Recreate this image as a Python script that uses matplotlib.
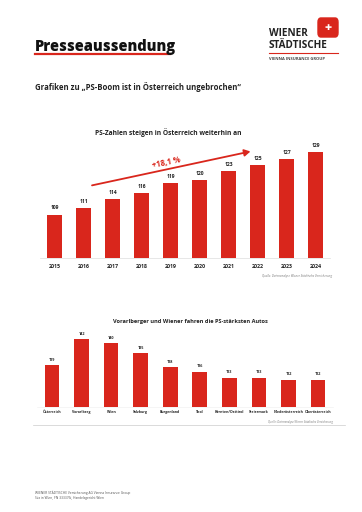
import matplotlib.pyplot as plt
from matplotlib.patches import FancyBboxPatch

plt.rcParams['font.family'] = ['Open Sans', 'DejaVu Sans']

# Daten
years = ['2015', '2016', '2017', '2018', '2019', '2020', '2021', '2022', '2023', '2024']
ps_years = [109, 111, 114, 116, 119, 120, 123, 125, 127, 129]

states = ['Österreich', 'Vorarlberg', 'Wien', 'Salzburg', 'Burgenland', 'Tirol',
          'Kärnten/Osttirol', 'Steiermark', 'Niederösterreich', 'Oberösterreich']
ps_states = [129, 142, 140, 135, 128, 126, 123, 123, 122, 122]

red = '#d9261c'
dark = '#222222'
W, H = 362, 512

fig = plt.figure(figsize=(W / 100, H / 100), dpi=100)


def px(x, y):
    # Pixel -> Figurenkoordinaten
    return x / W, 1 - y / H


def add_ax(x0, y0, x1, y1):
    return fig.add_axes([x0 / W, 1 - y1 / H, (x1 - x0) / W, (y1 - y0) / H])


# Kopfzeile
fig.text(*px(35, 47), 'Presseaussendung', fontsize=10.5, fontweight='heavy',
         color='#111111', va='center', ha='left')
fig.add_artist(plt.Line2D([35 / W, 170 / W], [1 - 54 / H, 1 - 54 / H],
                          color=red, lw=1.6))

# Logo
fig.add_artist(FancyBboxPatch(px(318, 37), 20 / W, 19 / H,
                              boxstyle='round,pad=0,rounding_size=0.008',
                              color=red, transform=fig.transFigure))
fig.text(*px(328, 27), '✚', fontsize=6, color='white', ha='center', va='center',
         family=['DejaVu Sans'])
fig.text(*px(269, 33), 'WIENER', fontsize=7.2, fontweight='bold', color=dark,
         ha='left', va='center')
fig.text(*px(269, 46), 'STÄDTISCHE', fontsize=7.2, fontweight='bold', color=dark,
         ha='left', va='center')
fig.add_artist(plt.Line2D([269 / W, 338 / W], [1 - 53 / H, 1 - 53 / H],
                          color=red, lw=0.8))
fig.text(*px(269, 58.5), 'VIENNA INSURANCE GROUP', fontsize=2.9, fontweight='bold',
         color='#444444', ha='left', va='center')

fig.text(*px(35, 87), 'Grafiken zu „PS-Boom ist in Österreich ungebrochen“',
         fontsize=5.6, fontweight='bold', color=dark, ha='left', va='center')

# Diagramm 1
ax1 = add_ax(40, 140, 330, 258)
x1 = range(len(years))
ax1.bar(x1, ps_years, width=0.52, color=red)
for i, v in enumerate(ps_years):
    ax1.text(i, v + 1.3, str(v), ha='center', va='bottom', fontsize=3.6,
             fontweight='bold', color=dark)
ax1.set_ylim(95, 133)
ax1.set_xlim(-0.5, 9.5)
ax1.set_xticks(list(x1))
ax1.set_xticklabels(years, fontsize=3.8, fontweight='bold', color=dark)
ax1.tick_params(length=0, pad=4)
ax1.set_yticks([])
for s in ['top', 'right', 'left']:
    ax1.spines[s].set_visible(False)
ax1.spines['bottom'].set_color('#dddddd')
ax1.spines['bottom'].set_linewidth(0.5)
ax1.annotate('', xy=(6.85, 129.5), xytext=(1.2, 118.2),
             arrowprops=dict(arrowstyle='-|>,head_length=0.35,head_width=0.2',
                             color=red, lw=1.3))
ax1.text(3.85, 125.8, '+18,1 %', rotation=12, fontsize=5.6, fontweight='bold',
         color=red, ha='center', va='center')
fig.text(*px(168, 133), 'PS-Zahlen steigen in Österreich weiterhin an',
         fontsize=4.8, fontweight='bold', color=dark, ha='center', va='center')
fig.text(*px(332, 276), 'Quelle: Datenanalyse Wiener Städtische Versicherung',
         fontsize=2.2, style='italic', color='#777777', ha='right', va='center')

# Diagramm 2
ax2 = add_ax(37.2, 330, 332.8, 407)
x2 = range(len(states))
ax2.bar(x2, ps_states, width=0.5, color=red)
for i, v in enumerate(ps_states):
    ax2.text(i, v + 1.6, str(v), ha='center', va='bottom', fontsize=2.7,
             fontweight='bold', color=dark)
ax2.set_ylim(108.7, 146.3)
ax2.set_xlim(-0.5, 9.5)
ax2.set_xticks(list(x2))
ax2.set_xticklabels(states, fontsize=2.5, fontweight='bold', color=dark)
ax2.tick_params(length=0, pad=2.5)
ax2.set_yticks([])
for s in ['top', 'right', 'left']:
    ax2.spines[s].set_visible(False)
ax2.spines['bottom'].set_color('#eeeeee')
ax2.spines['bottom'].set_linewidth(0.4)
fig.text(*px(190, 321), 'Vorarlberger und Wiener fahren die PS-stärksten Autos',
         fontsize=4.1, fontweight='bold', color=dark, ha='center', va='center')
fig.add_artist(plt.Line2D([33 / W, 345 / W], [1 - 424.5 / H, 1 - 424.5 / H],
                          color='#cccccc', lw=0.5))
fig.text(*px(333, 421.5), 'Quelle: Datenanalyse Wiener Städtische Versicherung',
         fontsize=2.0, style='italic', color='#777777', ha='right', va='center')

# Fusszeile
fig.text(*px(35, 493), 'WIENER STÄDTISCHE Versicherung AG Vienna Insurance Group',
         fontsize=2.3, color='#555555', ha='left', va='center')
fig.text(*px(35, 498), 'Sitz in Wien, FN 333376i, Handelsgericht Wien',
         fontsize=2.3, color='#555555', ha='left', va='center')

fig.savefig('out.png', dpi=100)
